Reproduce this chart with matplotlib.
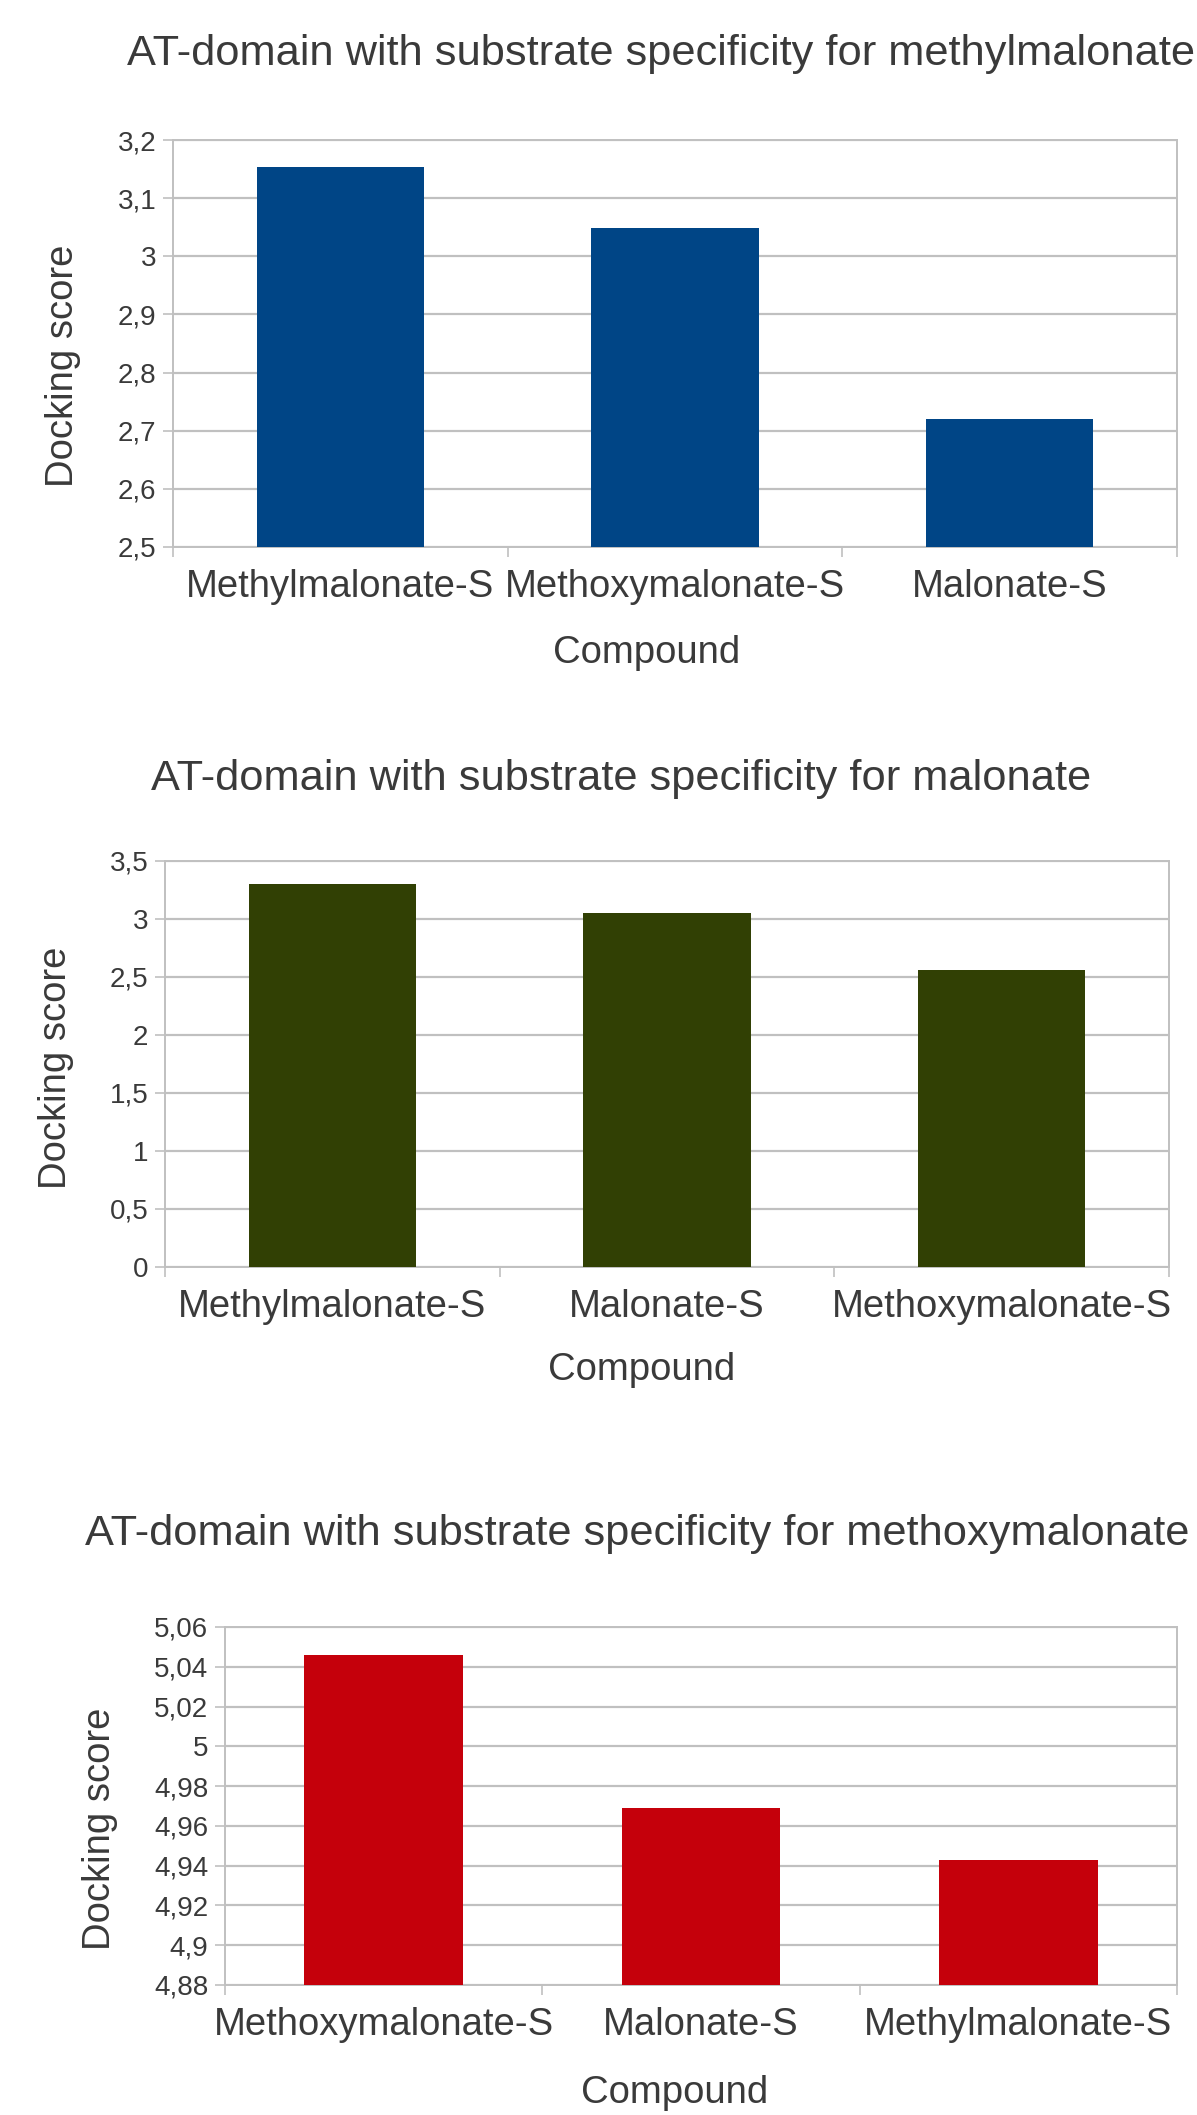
import matplotlib
matplotlib.use("Agg")
import matplotlib.pyplot as plt
from matplotlib.ticker import FuncFormatter, MultipleLocator, FixedLocator

plt.rcParams["font.family"] = ["Liberation Sans", "DejaVu Sans"]

W, H = 1197, 2115
DPI = 100
TEXT = "#3a3a3a"
GRID = "#c0c0c0"

# ---- data ----
title_1 = "AT-domain with substrate specificity for methylmalonate"
cats_1 = ["Methylmalonate-S", "Methoxymalonate-S", "Malonate-S"]
scores_1 = [3.153, 3.048, 2.720]

title_2 = "AT-domain with substrate specificity for malonate"
cats_2 = ["Methylmalonate-S", "Malonate-S", "Methoxymalonate-S"]
scores_2 = [3.303, 3.054, 2.562]

title_3 = "AT-domain with substrate specificity for methoxymalonate"
cats_3 = ["Methoxymalonate-S", "Malonate-S", "Methylmalonate-S"]
scores_3 = [5.046, 4.969, 4.943]

x_label = "Compound"
y_label = "Docking score"


def comma_fmt(v, pos):
    return f"{round(v, 3):g}".replace(".", ",")


def px_axes(fig, left, top, right, bottom):
    return fig.add_axes([left / W, 1 - bottom / H, (right - left) / W, (bottom - top) / H])


def ftext(fig, x, y, s, size, rot=0):
    fig.text(x / W, 1 - y / H, s, ha="center", va="center", fontsize=size,
             color=TEXT, rotation=rot)


def draw_chart(fig, box, cats, vals, color, ylim, step, title, title_xy, comp_xy, ylab_xy):
    ax = px_axes(fig, *box)
    x = range(len(cats))
    ax.bar(x, vals, width=0.5, color=color, zorder=3)
    ax.set_xlim(-0.5, len(cats) - 0.5)
    ax.set_ylim(*ylim)
    ax.yaxis.set_major_locator(MultipleLocator(step))
    ax.yaxis.set_major_formatter(FuncFormatter(comma_fmt))
    ax.set_xticks(list(x))
    ax.set_xticklabels(cats)
    ax.xaxis.set_minor_locator(FixedLocator([i - 0.5 for i in range(len(cats) + 1)]))
    ax.tick_params(axis="x", which="major", length=0, pad=16, labelsize=27.5, labelcolor=TEXT)
    ax.tick_params(axis="x", which="minor", length=7, width=1.2, color=GRID, direction="out")
    ax.tick_params(axis="y", length=7, width=1.2, color=GRID, pad=5, labelsize=20, labelcolor=TEXT)
    ax.grid(axis="y", color=GRID, lw=1.6, zorder=0)
    for sp in ax.spines.values():
        sp.set_color(GRID)
        sp.set_linewidth(1.4)
    ftext(fig, *title_xy, title, 31.2)
    ftext(fig, *comp_xy, x_label, 27.5)
    ftext(fig, *ylab_xy, y_label, 27.5, rot=90)
    return ax


fig = plt.figure(figsize=(W / DPI, H / DPI), dpi=DPI)

draw_chart(fig, (173, 140, 1177, 547), cats_1, scores_1, "#004586", (2.5, 3.2), 0.1,
           title_1, (661, 54), (647, 653), (63, 366))
draw_chart(fig, (165, 861, 1169, 1267), cats_2, scores_2, "#314004", (0, 3.5), 0.5,
           title_2, (621, 779), (642, 1370), (56, 1068))
draw_chart(fig, (225, 1627, 1177, 1985), cats_3, scores_3, "#c5000b", (4.88, 5.06), 0.02,
           title_3, (637, 1534), (675, 2093), (100, 1829))

fig.savefig("out.png", dpi=DPI, facecolor="white")
